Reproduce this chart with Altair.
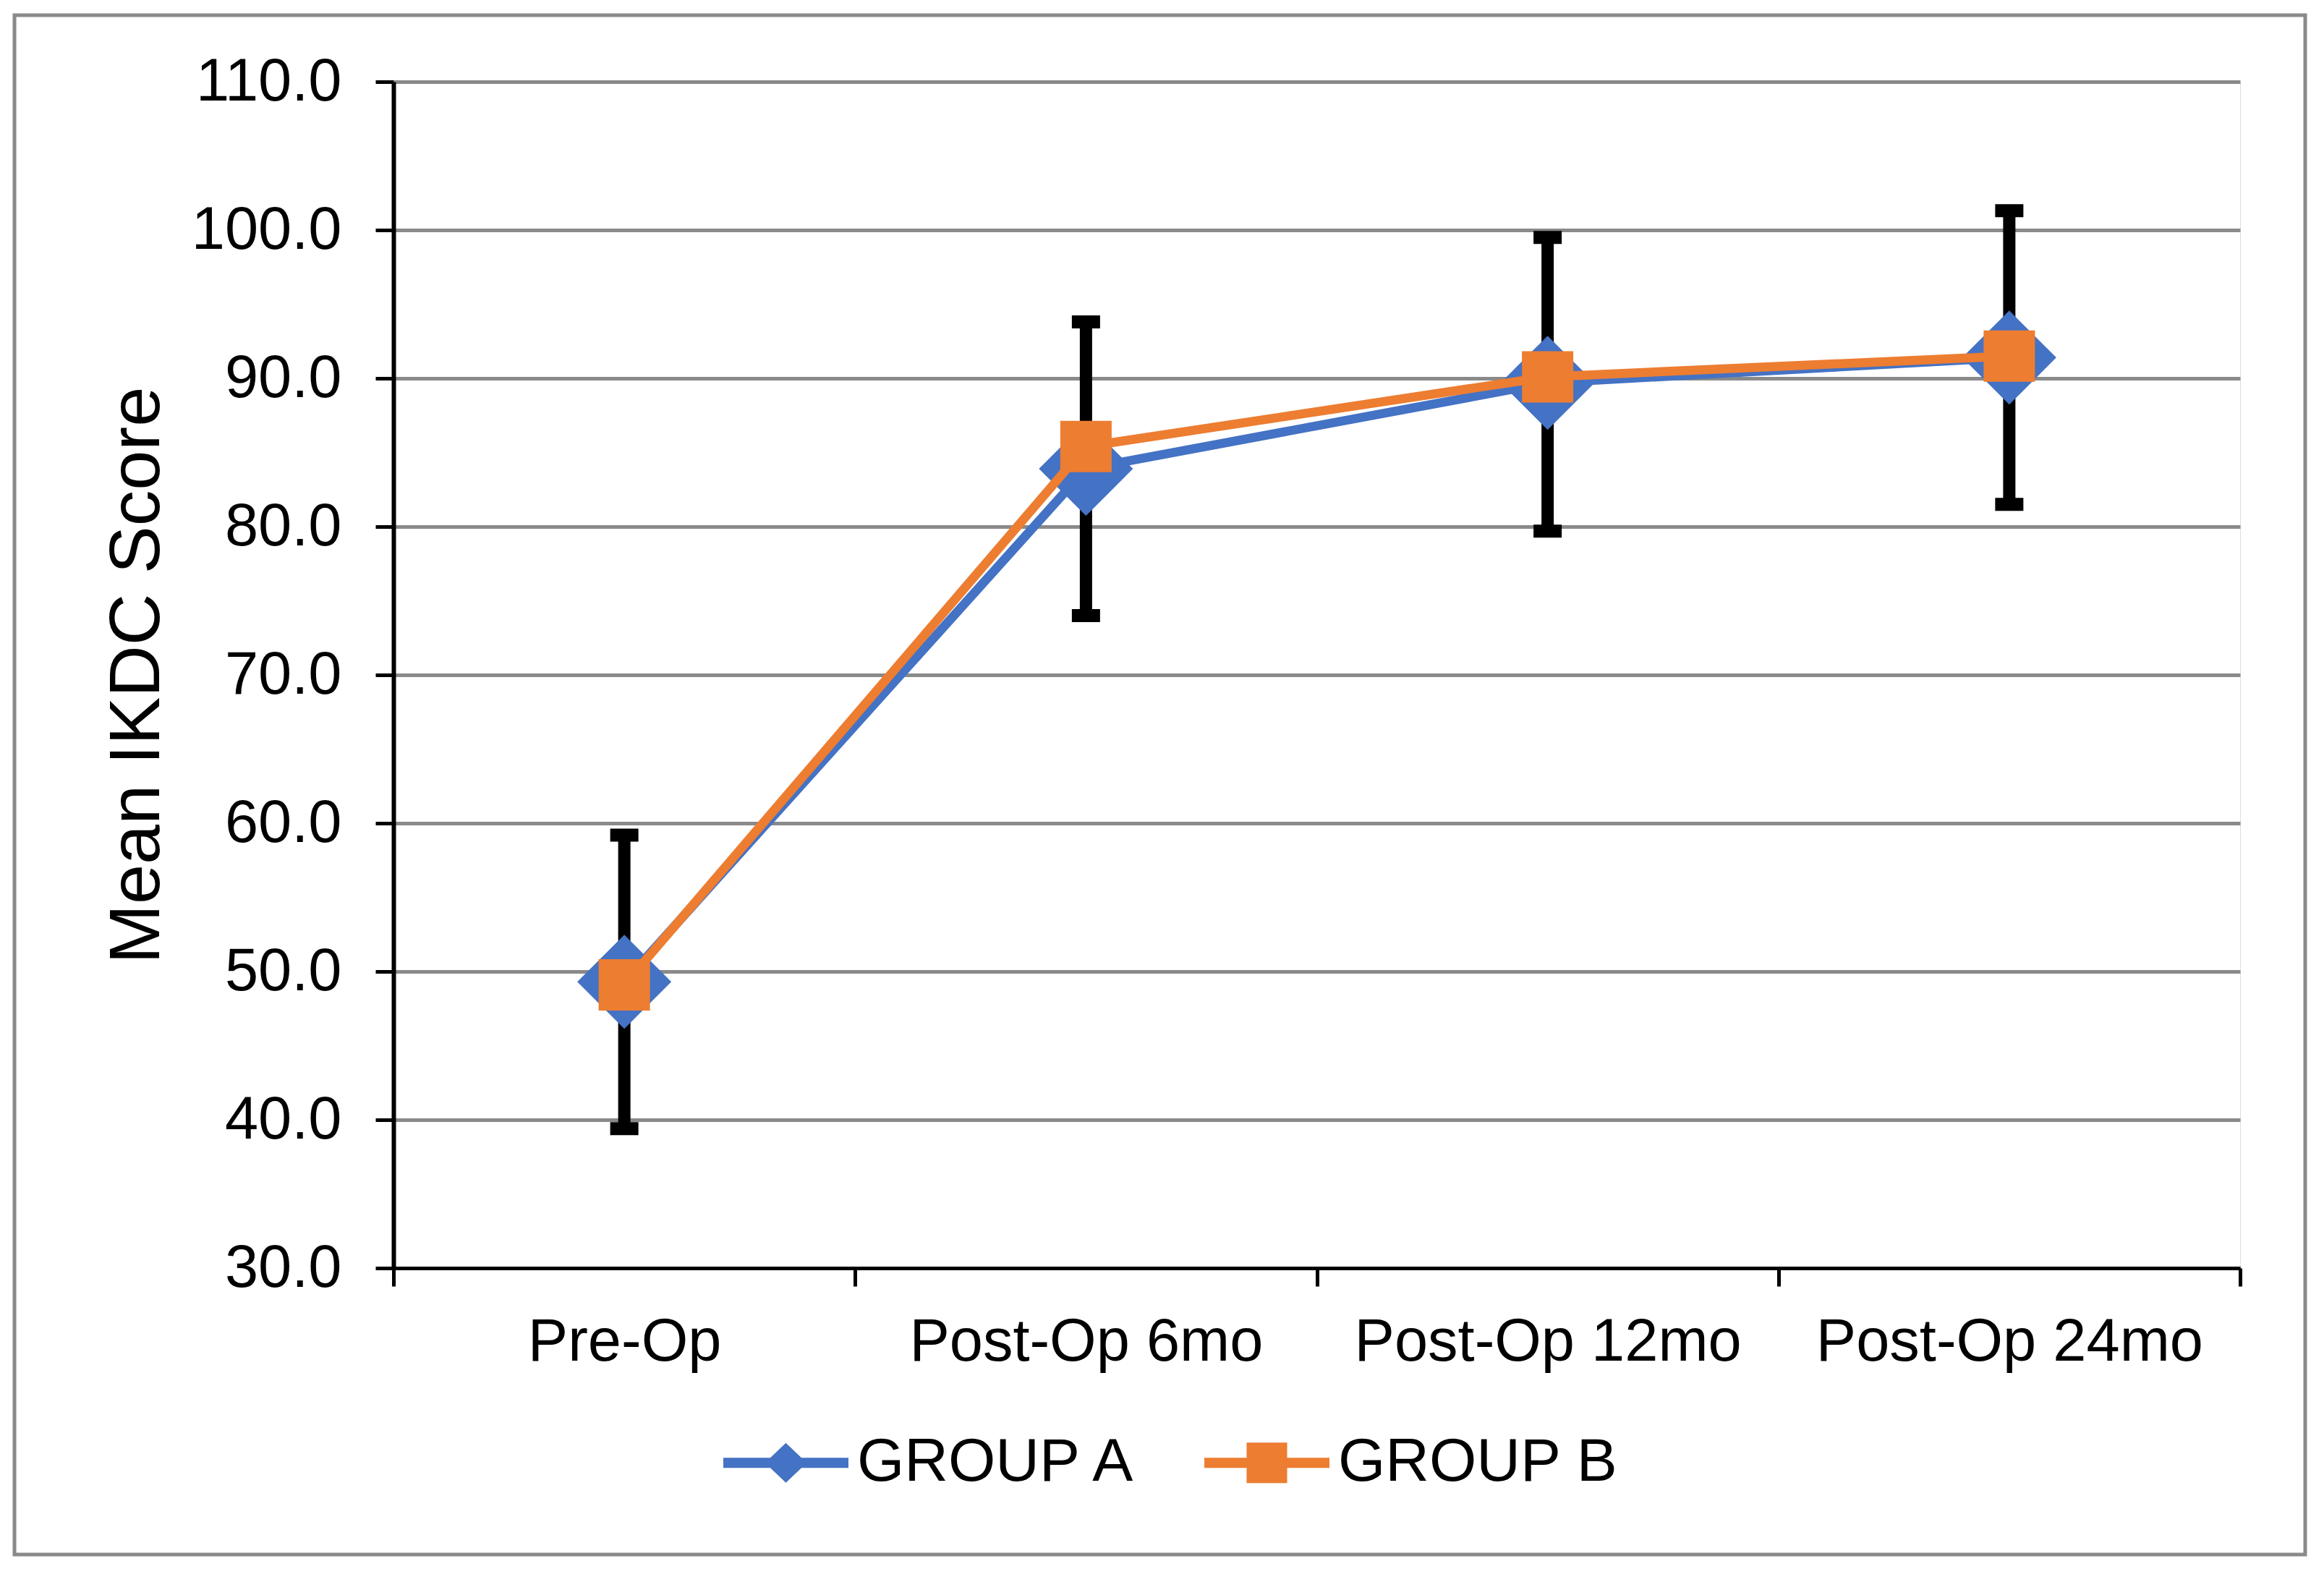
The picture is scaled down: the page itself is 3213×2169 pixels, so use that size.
import altair as alt
import pandas as pd

# ---- data ----
categories = ["Pre-Op", "Post-Op 6mo", "Post-Op 12mo", "Post-Op 24mo"]
groups = ["GROUP A", "GROUP B"]
group_a = [49.3, 83.9, 89.7, 91.4]
group_b = [49.1, 85.4, 90.1, 91.5]
err_low = [39.4, 74.0, 79.7, 81.5]
err_high = [59.2, 93.8, 99.5, 101.3]
y_ticks = [30, 40, 50, 60, 70, 80, 90, 100, 110]
colors = ["#4472C4", "#ED7D31"]

FONT = "Liberation Sans"
GRID = "#8a8a8a"

df = pd.DataFrame({
    "time": categories * 2,
    "group": [groups[0]] * len(categories) + [groups[1]] * len(categories),
    "score": group_a + group_b,
})
err = pd.DataFrame({"time": categories, "low": err_low, "high": err_high})

x_axis = alt.Axis(title=None, labelFontSize=83, labelFont=FONT, labelColor="black",
                  labelPadding=36, labelAngle=0, labelLimit=2000, tickSize=25, tickWidth=5,
                  tickColor="black", domainColor="black", domainWidth=5, tickBand="extent",
                  grid=False, zindex=1)
y_axis = alt.Axis(title="Mean IKDC Score", titleFontSize=99, titleFont=FONT, titleColor="black",
                  titleFontWeight="normal", titleAngle=-90, titleX=-325, titleY=820,
                  titleBaseline="alphabetic", titleAlign="center", titleLimit=3000,
                  values=y_ticks, format=".1f", labelFontSize=83, labelFont=FONT,
                  labelColor="black", labelPadding=47, labelLimit=2000, tickSize=25, tickWidth=5,
                  tickColor="black", domainColor="black", domainWidth=6,
                  grid=True, gridColor=GRID, gridWidth=5, zindex=0)

x_scale = alt.Scale(type="band", domain=categories, paddingInner=0, paddingOuter=0)
y_scale = alt.Scale(domain=[30, 110], nice=False, zero=False)

X = alt.X("time:N", sort=categories, scale=x_scale, axis=x_axis)

def Y(field):
    return alt.Y(field, type="quantitative", scale=y_scale, axis=y_axis)

frame = alt.Chart(pd.DataFrame({"f": [0]})).mark_rect(
    fillOpacity=0, stroke=GRID, strokeWidth=5
).encode(x=alt.value(-524), x2=alt.value(2643), y=alt.value(-92), y2=alt.value(2036))

stems = alt.Chart(err).mark_rule(color="black", strokeWidth=17).encode(
    x=X, y=Y("low"), y2="high")
caps_low = alt.Chart(err).mark_tick(color="black", size=39, thickness=18, opacity=1).encode(
    x=X, y=Y("low"))
caps_high = alt.Chart(err).mark_tick(color="black", size=39, thickness=18, opacity=1).encode(
    x=X, y=Y("high"))

line_a = alt.Chart(df).transform_filter(alt.datum.group == groups[0]).mark_line(
    color=colors[0], strokeWidth=12.5, strokeJoin="round", strokeCap="round"
).encode(x=X, y=Y("score"))
pts_a = alt.Chart(df).transform_filter(alt.datum.group == groups[0]).mark_point(
    shape="diamond", filled=True, size=16900, color=colors[0], opacity=1, strokeWidth=0
).encode(x=X, y=Y("score"))
line_b = alt.Chart(df).transform_filter(alt.datum.group == groups[1]).mark_line(
    color=colors[1], strokeWidth=12.5, strokeJoin="round", strokeCap="round"
).encode(x=X, y=Y("score"))
pts_b = alt.Chart(df).transform_filter(alt.datum.group == groups[1]).mark_point(
    shape="square", filled=True, size=5041, color=colors[1], opacity=1, strokeWidth=0
).encode(x=X, y=Y("score"))

# legend symbols: line with marker in the middle
path_a = ("M-1,-0.081L-0.249,-0.081L0,-0.318L0.249,-0.081L1,-0.081L1,0.081"
          "L0.249,0.081L0,0.318L-0.249,0.081L-1,0.081Z")
path_b = ("M-1,-0.081L-0.324,-0.081L-0.324,-0.324L0.324,-0.324L0.324,-0.081L1,-0.081"
          "L1,0.081L0.324,0.081L0.324,0.324L-0.324,0.324L-0.324,0.081L-1,0.081Z")

leg = alt.Legend(title=None, orient="none", legendX=456, legendY=1822.5,
                 direction="horizontal", columns=2, symbolSize=29929,
                 labelFontSize=84, labelFont=FONT, labelColor="black",
                 labelOffset=12, columnPadding=92, labelLimit=2000, padding=0,
                 symbolStrokeWidth=0, symbolOpacity=1)

legend_layer = alt.Chart(df).transform_filter("false").mark_point(
    filled=True, opacity=1, size=29929
).encode(
    color=alt.Color("group:N", scale=alt.Scale(domain=groups, range=colors), legend=leg),
    shape=alt.Shape("group:N", scale=alt.Scale(domain=groups, range=[path_a, path_b]), legend=leg),
)

chart = alt.layer(
    frame, stems, caps_low, caps_high, line_a, pts_a, line_b, pts_b, legend_layer
).properties(
    width=2553, height=1640,
    padding={"left": 536, "top": 105, "right": 108, "bottom": 408},
    autosize=alt.AutoSizeParams(type="none"),
).configure_view(strokeWidth=0).configure(font=FONT, background="white")

chart.save("out.html", embed_options={"renderer": "svg", "actions": False})
